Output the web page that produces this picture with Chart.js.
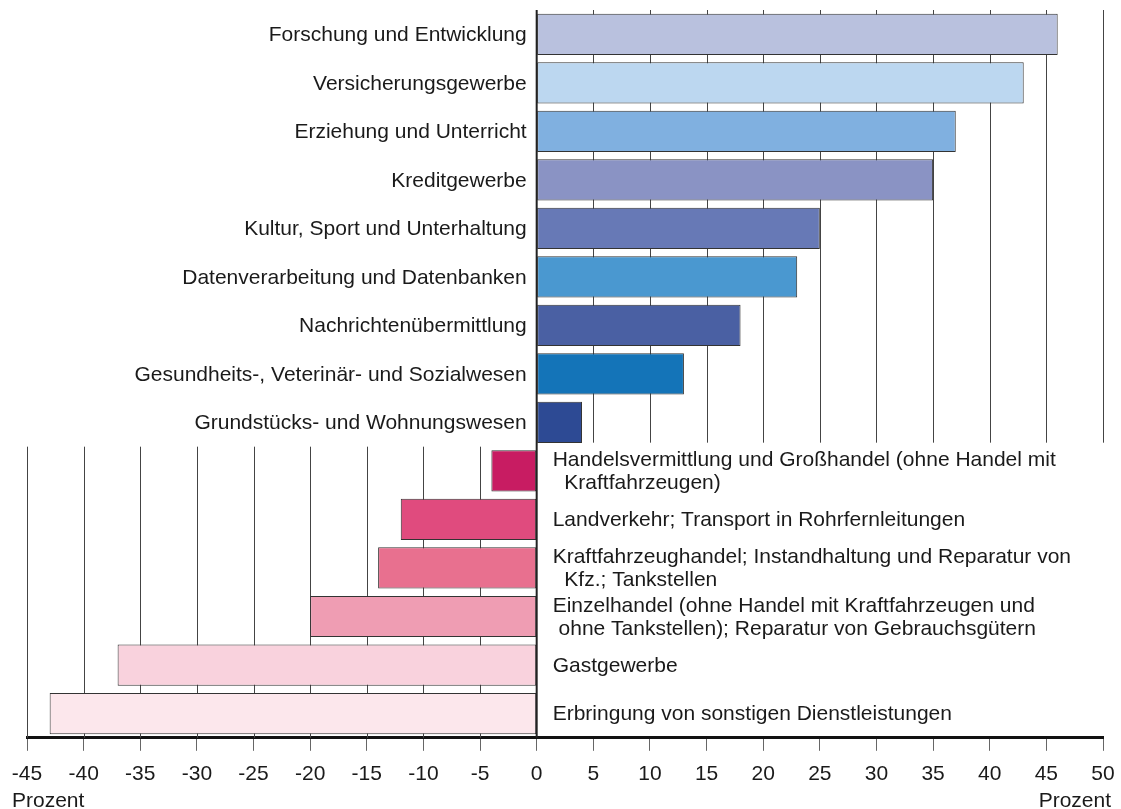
<!DOCTYPE html>
<html>
<head>
<meta charset="utf-8">
<script src="https://cdn.jsdelivr.net/npm/chart.js@4/dist/chart.umd.min.js"></script>
<style>
html,body{margin:0;padding:0;background:#fff;}
canvas{display:block;}
</style>
</head>
<body>
<canvas id="c" width="1121" height="809"></canvas>
<script>
const categories = [
  'Forschung und Entwicklung',
  'Versicherungsgewerbe',
  'Erziehung und Unterricht',
  'Kreditgewerbe',
  'Kultur, Sport und Unterhaltung',
  'Datenverarbeitung und Datenbanken',
  'Nachrichtenübermittlung',
  'Gesundheits-, Veterinär- und Sozialwesen',
  'Grundstücks- und Wohnungswesen',
  ['Handelsvermittlung und Großhandel (ohne Handel mit', '  Kraftfahrzeugen)'],
  'Landverkehr; Transport in Rohrfernleitungen',
  ['Kraftfahrzeughandel; Instandhaltung und Reparatur von', '  Kfz.; Tankstellen'],
  ['Einzelhandel (ohne Handel mit Kraftfahrzeugen und', ' ohne Tankstellen); Reparatur von Gebrauchsgütern'],
  'Gastgewerbe',
  'Erbringung von sonstigen Dienstleistungen'
];
const values = [46, 43, 37, 35, 25, 23, 18, 13, 4, -4, -12, -14, -20, -37, -43];
const barColors = [
  '#b9c1de', '#bcd7f0', '#80b0e0', '#8a93c4', '#6779b6', '#4a98d0', '#4a60a3', '#1474b8', '#2d4a94',
  '#c81c62', '#e04b7e', '#e8708f', '#ef9db3', '#f9d2dd', '#fce7ec'
];
const xMin = -45, xMax = 50, xStep = 5;
const unitLabel = 'Prozent';

const FONT = 'Liberation Sans, Arial, sans-serif';
const FSIZE = 21;

const customDraw = {
  id: 'customDraw',
  beforeDatasetsDraw(chart) {
    const {ctx, chartArea, scales} = chart;
    const x = scales.x, y = scales.y;
    const split = (y.getPixelForValue(8) + y.getPixelForValue(9)) / 2;
    ctx.save();
    ctx.lineWidth = 1;
    ctx.strokeStyle = '#444';
    for (let v = xMin; v <= xMax; v += xStep) {
      if (v === 0) continue;
      const px = Math.round(x.getPixelForValue(v)) + 0.5;
      ctx.beginPath();
      if (v > 0) {
        ctx.moveTo(px, chartArea.top);
        ctx.lineTo(px, split - 4);
      } else {
        ctx.moveTo(px, split);
        ctx.lineTo(px, chartArea.bottom);
      }
      ctx.stroke();
    }
    ctx.restore();
  },
  afterDatasetsDraw(chart) {
    const {ctx, chartArea, scales} = chart;
    const x = scales.x, y = scales.y;
    const zx = x.getPixelForValue(0);
    ctx.save();
    ctx.strokeStyle = '#222';
    ctx.lineWidth = 2;
    ctx.beginPath();
    ctx.moveTo(zx, chartArea.top);
    ctx.lineTo(zx, chartArea.bottom);
    ctx.stroke();
    ctx.fillStyle = '#1a1a1a';
    ctx.font = FSIZE + 'px ' + FONT;
    ctx.textBaseline = 'middle';
    const lh = 23;
    categories.forEach((lab, i) => {
      const lines = Array.isArray(lab) ? lab : [lab];
      const cy = y.getPixelForValue(i) + 1;
      const y0 = cy - (lines.length - 1) * lh / 2;
      const pos = values[i] >= 0;
      ctx.textAlign = pos ? 'right' : 'left';
      const tx = pos ? zx - 10 : zx + 16;
      lines.forEach((ln, k) => ctx.fillText(ln, tx, y0 + k * lh));
    });
    ctx.textAlign = 'left';
    ctx.fillText(unitLabel, 12, 801);
    ctx.textAlign = 'right';
    ctx.fillText(unitLabel, 1111, 801);
    ctx.restore();
  }
};

new Chart(document.getElementById('c'), {
  type: 'bar',
  data: {
    labels: categories,
    datasets: [{
      data: values,
      backgroundColor: barColors,
      borderColor: '#333',
      borderWidth: 1,
      borderSkipped: false,
      barPercentage: 0.85,
      categoryPercentage: 1.0
    }]
  },
  options: {
    indexAxis: 'y',
    responsive: false,
    animation: false,
    events: [],
    layout: {padding: {left: 27, right: 18, top: 10, bottom: 11}},
    plugins: {legend: {display: false}, tooltip: {enabled: false}},
    scales: {
      x: {
        type: 'linear',
        min: xMin,
        max: xMax,
        afterFit(scale) { scale.paddingLeft = 0; scale.paddingRight = 0; },
        ticks: {
          stepSize: xStep,
          autoSkip: false,
          maxRotation: 0,
          padding: 11,
          color: '#1a1a1a',
          font: {family: FONT, size: FSIZE}
        },
        grid: {drawOnChartArea: false, drawTicks: true, tickLength: 13, color: '#666', lineWidth: 1},
        border: {display: true, color: '#111', width: 3}
      },
      y: {
        type: 'category',
        display: false
      }
    }
  },
  plugins: [customDraw]
});
</script>
</body>
</html>
